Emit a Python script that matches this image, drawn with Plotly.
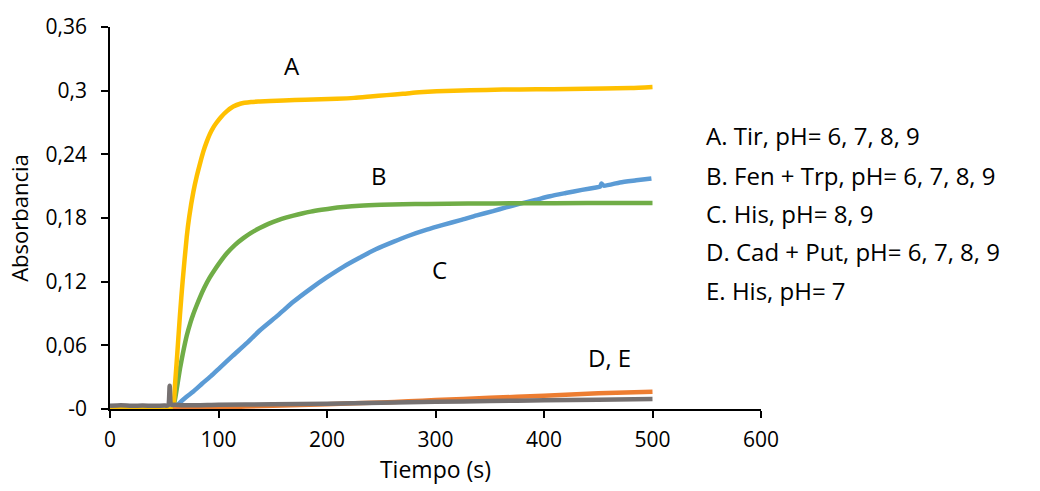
import plotly.graph_objects as go

# ---- data ----
t_A = [0, 20, 40, 57, 58.5, 60, 62, 64.5, 67, 70.7, 73, 76.8, 80, 83, 86, 89, 92, 95, 98.3, 102, 107.5, 113.6,
       120, 130, 138, 147.5, 160, 180, 209, 225, 240, 255, 270, 285, 301, 332, 362, 393, 424, 455, 480, 500]
v_A = [0, 0, 0, 0, 0.003, 0.024, 0.052, 0.089, 0.121, 0.162, 0.181, 0.2045, 0.2195, 0.2315, 0.2425, 0.2515,
       0.259, 0.265, 0.270, 0.2748, 0.2805, 0.2850, 0.2877, 0.2893, 0.2898, 0.2903, 0.2908, 0.2915, 0.2924,
       0.2932, 0.2945, 0.2958, 0.297, 0.2985, 0.2995, 0.3004, 0.301, 0.3013, 0.3016, 0.302, 0.3025, 0.3035]

t_B = [58, 60, 62, 64.5, 67, 70.7, 74, 76.8, 80, 83, 87, 92, 97, 101.4, 107.5, 115, 122.9, 130, 138, 146,
       155, 162, 169, 177, 185, 195, 205, 215, 230, 250, 270, 292, 330, 378, 440, 500]
v_B = [0.0, 0.0095, 0.022, 0.038, 0.0515, 0.069, 0.081, 0.0895, 0.098, 0.1055, 0.1145, 0.124, 0.132, 0.1385,
       0.1465, 0.1545, 0.161, 0.166, 0.1705, 0.1745, 0.178, 0.1803, 0.1823, 0.1843, 0.186, 0.1877, 0.1892,
       0.1903, 0.1915, 0.1924, 0.1929, 0.1933, 0.1936, 0.1939, 0.1941, 0.1942]

t_C = [59, 61, 64.5, 70, 76.8, 85, 93, 101.4, 113, 126, 138, 155, 169, 185, 199.7, 215, 230, 245, 261, 276,
       292, 307, 323, 338, 353, 365, 378, 392, 405.5, 420, 435, 448, 451.6, 453, 455, 470, 485, 499]
v_C = [0.0, 0.002, 0.006, 0.011, 0.0165, 0.024, 0.031, 0.039, 0.050, 0.062, 0.074, 0.0885, 0.101, 0.1135,
       0.124, 0.134, 0.1425, 0.1505, 0.1575, 0.1635, 0.169, 0.1735, 0.178, 0.1825, 0.1865, 0.190, 0.1935,
       0.197, 0.2005, 0.2035, 0.2065, 0.2088, 0.2095, 0.2125, 0.2105, 0.2135, 0.2155, 0.2173]

t_D = [58, 100, 150, 200, 250, 275, 300, 350, 400, 450, 500]
v_D = [0.0, 0.0015, 0.003, 0.0045, 0.0062, 0.0072, 0.0085, 0.0105, 0.0125, 0.0148, 0.0163]

t_E = [0, 10, 20, 30, 40, 50, 53.5, 55, 56.5, 60, 70, 100, 150, 200, 250, 300, 350, 400, 450, 500]
v_E = [0.003, 0.0035, 0.003, 0.0033, 0.003, 0.0032, 0.0035, 0.022, 0.004, 0.004, 0.0035, 0.004, 0.0045,
       0.005, 0.006, 0.0068, 0.0075, 0.0082, 0.0088, 0.0095]

y_ticks = [0, 0.06, 0.12, 0.18, 0.24, 0.30, 0.36]
y_ticktext = ["-0", "0,06", "0,12", "0,18", "0,24", "0,3", "0,36"]
x_ticks = [0, 100, 200, 300, 400, 500, 600]

curve_labels = ["A", "B", "C", "D, E"]
curve_label_x = [168, 248, 304, 460]
curve_label_y = [0.3235, 0.2205, 0.131, 0.049]

legend_lines = ["A. Tir, pH= 6, 7, 8, 9",
                "B. Fen + Trp, pH= 6, 7, 8, 9",
                "C. His, pH= 8, 9",
                "D. Cad + Put, pH= 6, 7, 8, 9",
                "E. His, pH= 7"]

FONT = "Open Sans"
FS_TICK = 21
FS = 24
LW = 4.5

fig = go.Figure()
series = [
    ("C", t_C, v_C, "#5B9BD5"),
    ("B", t_B, v_B, "#70AD47"),
    ("A", t_A, v_A, "#FFC000"),
    ("D", t_D, v_D, "#ED7D31"),
    ("E", t_E, v_E, "#767171"),
]
for name, t, v, c in series:
    fig.add_trace(go.Scatter(x=t, y=v, mode="lines", name=name,
                             line=dict(color=c, width=LW, shape="spline", smoothing=0.6),
                             showlegend=False))

annotations = []
for txt, x, y in zip(curve_labels, curve_label_x, curve_label_y):
    annotations.append(dict(x=x, y=y, xref="x", yref="y", text=txt, showarrow=False,
                            font=dict(family=FONT, size=FS, color="black")))

leg_y = [0.715, 0.612, 0.512, 0.411, 0.311]
for txt, y in zip(legend_lines, leg_y):
    annotations.append(dict(x=0.9127, y=y, xref="paper", yref="paper", text=txt, showarrow=False,
                            xanchor="left", yanchor="middle",
                            font=dict(family=FONT, size=FS, color="black")))

fig.update_layout(
    width=1040, height=491,
    margin=dict(l=110, r=279, t=20, b=82),
    plot_bgcolor="white", paper_bgcolor="white",
    font=dict(family=FONT, size=FS_TICK, color="black"),
    annotations=annotations,
    xaxis=dict(range=[0, 600], tickvals=x_ticks, showgrid=False, zeroline=False,
               showline=True, linecolor="black", linewidth=1.5,
               ticks="outside", ticklen=7, tickwidth=1.5, tickcolor="black",
               ticklabelstandoff=4, tickfont=dict(size=FS_TICK),
               title=dict(text="Tiempo (s)", standoff=10, font=dict(size=FS - 1))),
    yaxis=dict(range=[0, 0.36], tickvals=y_ticks, ticktext=y_ticktext, showgrid=False, zeroline=False,
               showline=True, linecolor="black", linewidth=1.5,
               ticks="outside", ticklen=7, tickwidth=1.5, tickcolor="black",
               ticklabelstandoff=10, tickfont=dict(size=FS_TICK),
               title=dict(text="Absorbancia", standoff=11, font=dict(size=FS - 2))),
)

fig.write_html("out.html")
